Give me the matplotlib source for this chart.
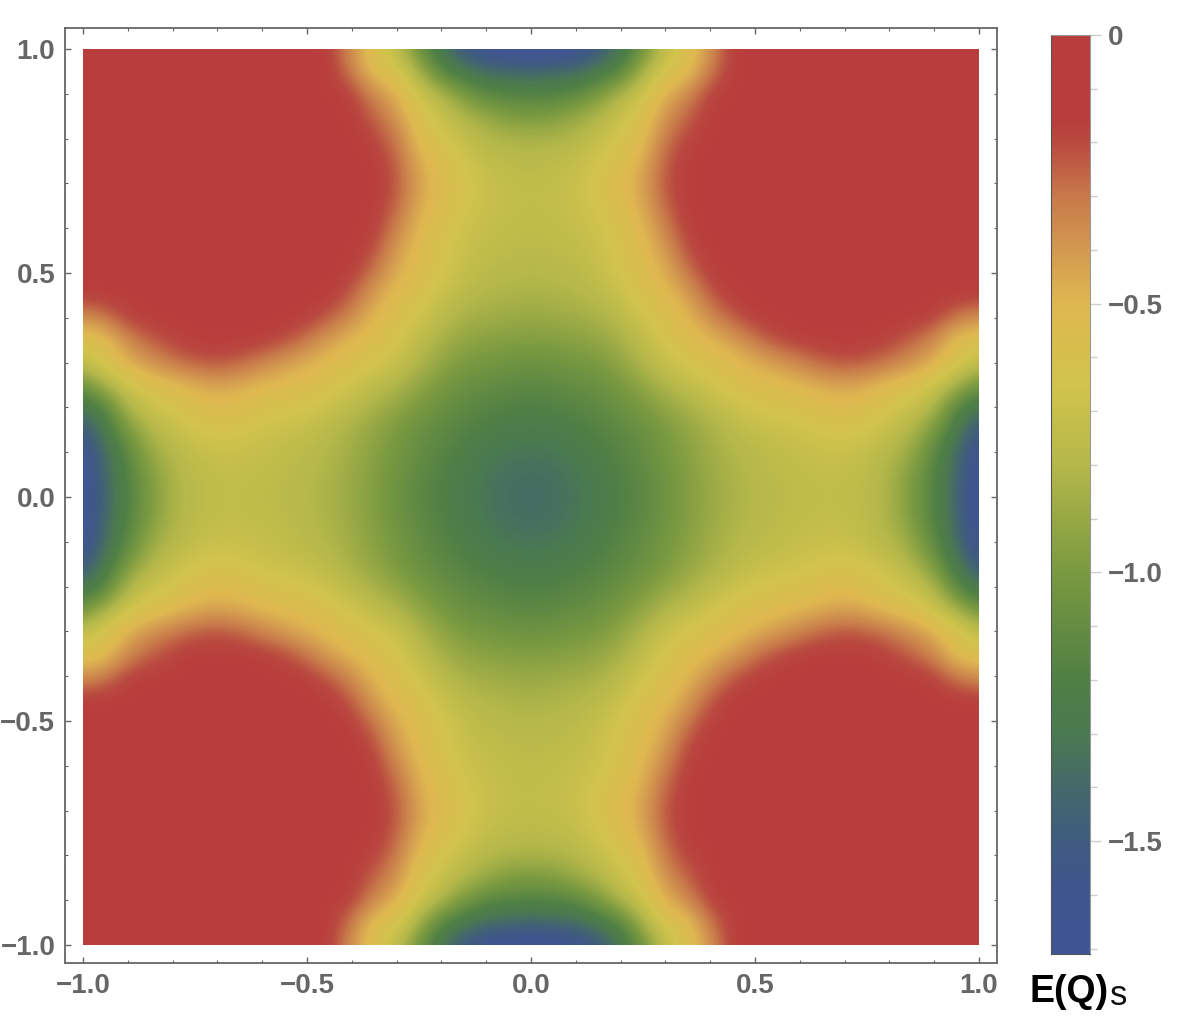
import numpy as np
import matplotlib
matplotlib.use("Agg")
import matplotlib.pyplot as plt
from matplotlib.colors import LinearSegmentedColormap
from matplotlib.patches import Rectangle
from matplotlib.ticker import MultipleLocator

plt.rcParams['font.family'] = ['Liberation Sans', 'DejaVu Sans']

# Energy for the quadrant x>=0, y>=0, on a 0.05 grid.
# Each row starts on the diagonal (x = y) and runs out to x = 1.
row_y000 = [-1.38,-1.37,-1.33,-1.27,-1.20,-1.14,-1.06,-0.97,-0.90,-0.84,-0.80,-0.77,-0.75,-0.74,-0.74,-0.77,-0.84,-1.00,-1.18,-1.42,-1.71]
row_y005 = [-1.36,-1.32,-1.26,-1.19,-1.13,-1.05,-0.97,-0.89,-0.83,-0.79,-0.76,-0.74,-0.73,-0.73,-0.76,-0.83,-0.98,-1.17,-1.40,-1.68]
row_y010 = [-1.28,-1.22,-1.16,-1.10,-1.02,-0.95,-0.87,-0.81,-0.78,-0.74,-0.72,-0.70,-0.70,-0.73,-0.80,-0.90,-1.13,-1.38,-1.65]
row_y015 = [-1.18,-1.13,-1.08,-1.00,-0.92,-0.85,-0.78,-0.72,-0.70,-0.68,-0.64,-0.62,-0.66,-0.72,-0.82,-1.00,-1.28,-1.53]
row_y020 = [-1.08,-1.00,-0.92,-0.85,-0.77,-0.70,-0.65,-0.62,-0.60,-0.55,-0.53,-0.57,-0.63,-0.70,-0.82,-1.15,-1.33]
row_y025 = [-0.92,-0.82,-0.75,-0.67,-0.60,-0.55,-0.53,-0.50,-0.46,-0.43,-0.46,-0.53,-0.58,-0.68,-0.85,-1.05]
row_y030 = [-0.70,-0.63,-0.58,-0.53,-0.47,-0.41,-0.33,-0.25,-0.22,-0.24,-0.30,-0.38,-0.47,-0.60,-0.75]
row_y035 = [-0.57,-0.50,-0.42,-0.30,-0.20,-0.16,-0.15,-0.15,-0.15,-0.18,-0.25,-0.35,-0.55,-0.58]
row_y040 = [-0.36,-0.24,-0.16,-0.15,-0.15,-0.15,-0.15,-0.15,-0.15,-0.15,-0.17,-0.30,-0.38]
row_y045 = [-0.15,-0.15,-0.15,-0.15,-0.15,-0.15,-0.15,-0.15,-0.15,-0.15,-0.15,-0.15]
row_y050 = [-0.15,-0.15,-0.15,-0.15,-0.15,-0.15,-0.15,-0.15,-0.15,-0.15,-0.15]
row_y055 = [-0.15,-0.15,-0.15,-0.15,-0.15,-0.15,-0.15,-0.15,-0.15,-0.15]
row_y060 = [-0.15,-0.15,-0.15,-0.15,-0.15,-0.15,-0.15,-0.15,-0.15]
row_y065 = [-0.15,-0.15,-0.15,-0.15,-0.15,-0.15,-0.15,-0.15]
row_y070 = [-0.15,-0.15,-0.15,-0.15,-0.15,-0.15,-0.15]
row_y075 = [-0.15,-0.15,-0.15,-0.15,-0.15,-0.15]
row_y080 = [-0.15,-0.15,-0.15,-0.15,-0.15]
row_y085 = [-0.15,-0.15,-0.15,-0.15]
row_y090 = [-0.15,-0.15,-0.15]
row_y095 = [-0.15,-0.15]
row_y100 = [-0.15]
rows = [row_y000,row_y005,row_y010,row_y015,row_y020,row_y025,row_y030,row_y035,row_y040,row_y045,
        row_y050,row_y055,row_y060,row_y065,row_y070,row_y075,row_y080,row_y085,row_y090,row_y095,row_y100]

cbar_levels = [-1.71,-1.6,-1.5,-1.4,-1.3,-1.2,-1.0,-0.8,-0.65,-0.5,-0.4,-0.3,-0.2,-0.15,0.0]
cbar_colors = ['#3F5695','#405690','#3F5C80','#45696A','#4A7A50','#508045','#7A9A40','#B5B84A',
               '#D2C44C','#DFB850','#D49A50','#C87A4A','#BA4A40','#B93D3C','#B83D3C']
major_ticks = [-1.0,-0.5,0.0,0.5,1.0]
cbar_ticks = [-1.5,-1.0,-0.5,0.0]
GRAY = '#666666'

n = len(rows)
Q = np.zeros((n, n))
for i, r in enumerate(rows):
    for k, v in enumerate(r):
        Q[i, i + k] = v
        Q[i + k, i] = v
top = np.hstack([Q[:, :0:-1], Q])
Z = np.vstack([top[:0:-1], top])

vmin, vmax = cbar_levels[0], cbar_levels[-1]
cmap = LinearSegmentedColormap.from_list(
    'e', [((l - vmin) / (vmax - vmin), c) for l, c in zip(cbar_levels, cbar_colors)], N=512)

W, H = 1179, 1030
fig = plt.figure(figsize=(W / 100, H / 100), dpi=100, facecolor='white')

def px_axes(l, t, r, b):
    return fig.add_axes([l / W, 1 - b / H, (r - l) / W, (b - t) / H])

ax = px_axes(65, 28, 997, 963)
px = 448.0
h = 0.025
im = ax.imshow(Z, origin='lower', extent=[-1 - h, 1 + h, -1 - h, 1 + h], cmap=cmap, vmin=vmin, vmax=vmax,
               interpolation='bicubic', interpolation_stage='data', aspect='auto')
im.set_clip_path(Rectangle((-1, -1), 2, 2, transform=ax.transData))
ax.set_xlim(-1 - 18 / px, 1 + 18 / px)
ax.set_ylim(-1 - 18 / px, 1 + 21 / px)
for s in ax.spines.values():
    s.set_color(GRAY)
    s.set_linewidth(1.3)
ax.set_xticks(major_ticks)
ax.set_yticks(major_ticks)
ax.xaxis.set_minor_locator(MultipleLocator(0.1))
ax.yaxis.set_minor_locator(MultipleLocator(0.1))
ax.tick_params(which='major', direction='in', length=4, width=1.0, color=GRAY, top=True, right=True)
ax.tick_params(which='minor', direction='in', length=2.5, width=0.8, color=GRAY, top=True, right=True)
ax.tick_params(axis='both', which='major', labelsize=20, labelcolor=GRAY, pad=7)
ax.set_xticklabels(['\u22121.0', '\u22120.5', '0.0', '0.5', '1.0'], fontweight='bold')
ax.set_yticklabels(['\u22121.0', '\u22120.5', '0.0', '0.5', '1.0'], fontweight='bold')

cax = px_axes(1051, 35, 1090, 954)
top_v, bot_v = 0.0, -1.71
grad = np.linspace(bot_v, top_v, 512).reshape(-1, 1)
cax.imshow(grad, origin='lower', extent=[0, 1, bot_v, top_v], cmap=cmap, vmin=vmin, vmax=vmax, aspect='auto')
cax.set_xticks([])
cax.yaxis.tick_right()
cax.set_yticks(cbar_ticks)
cax.set_yticklabels(['\u22121.5', '\u22121.0', '\u22120.5', '0'], fontweight='bold')
cax.yaxis.set_minor_locator(MultipleLocator(0.1))
cax.tick_params(which='major', direction='out', length=8, width=1.0, color='#CCCCCC',
                labelsize=20, labelcolor=GRAY, pad=5)
cax.tick_params(which='minor', direction='out', length=5, width=1.0, color='#CCCCCC')
for name, s in cax.spines.items():
    s.set_linewidth(0.8)
    s.set_color('#555555' if name in ('left', 'bottom') else '#999999')

fig.text(1030 / W, 1 - 1002 / H, 'E(Q)', fontsize=27, fontweight='bold', color='black', ha='left', va='baseline')
fig.text(1110 / W, 1 - 1005 / H, 's', fontsize=25, color='#111111', ha='left', va='baseline')

fig.savefig('out.png', dpi=100, facecolor='white')
